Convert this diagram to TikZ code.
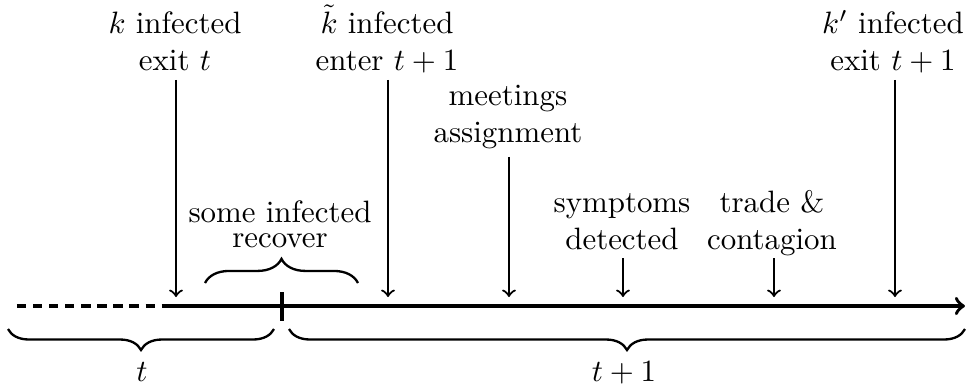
\documentclass[tikz,border=0pt]{standalone}
\usetikzlibrary{decorations.pathreplacing}
\begin{document}
\begin{tikzpicture}[x=0.3236pt,y=-0.3236pt,
  lbl/.style={align=center,inner sep=0pt,text depth=0pt,anchor=south},
  evarrow/.style={->,line width=0.7pt},
  axis/.style={line width=1.15pt},
  bracebar/.style={line width=0.75pt,decorate,decoration={brace,amplitude=#1}}]
\useasboundingbox (0,0) rectangle (967,385);

% time axis
\coordinate (dstart) at (17,306);
\coordinate (dend) at (163,306);
\coordinate (aend) at (965,306);
\draw[axis,dash pattern=on 3pt off 2.2pt] (dstart) -- (dend);
\draw[axis,->] (dend) -- (aend);
\coordinate (tickt) at (282,292);
\coordinate (tickb) at (282,321);
\draw[axis] (tickt) -- (tickb);

% event labels
\node[lbl] (kexit) at (175,71) {$k$ infected\\exit $t$};
\node[lbl] (kenter) at (387,71) {$\tilde{k}$ infected\\enter $t+1$};
\node[lbl] (kpexit) at (893,71) {$k'$ infected\\exit $t+1$};
\node[lbl] (meet) at (508,143) {meetings\\assignment};
\node[lbl] (sympt) at (622,250) {symptoms\\detected};
\node[lbl] (trade) at (772,250) {trade \&\\contagion};
\node[lbl] (recov) at (280,248) {some infected\\[-3.9pt]recover};

% event arrows
\coordinate (e1) at (176,297);
\coordinate (e2) at (388,297);
\coordinate (e3) at (509,297);
\coordinate (e4) at (623,297);
\coordinate (e5) at (774,297);
\coordinate (e6) at (895,297);
\draw[evarrow,shorten <=2.9pt] (kexit.south -| e1) -- (e1);
\draw[evarrow,shorten <=2.9pt] (kenter.south -| e2) -- (e2);
\draw[evarrow,shorten <=4.5pt] (meet.south -| e3) -- (e3);
\draw[evarrow,shorten <=2.6pt] (sympt.south -| e4) -- (e4);
\draw[evarrow,shorten <=2.6pt] (trade.south -| e5) -- (e5);
\draw[evarrow,shorten <=2.9pt] (kpexit.south -| e6) -- (e6);

% braces
\coordinate (rb1) at (205,283);
\coordinate (rb2) at (358,283);
\draw[bracebar=7.8pt] (rb1) -- (rb2);
\coordinate (tb1) at (274,329);
\coordinate (tb2) at (8,329);
\draw[bracebar=6.8pt] (tb1) -- (tb2);
\coordinate (sb1) at (965,329);
\coordinate (sb2) at (289,329);
\draw[bracebar=6.8pt] (sb1) -- (sb2);
\node[anchor=base,inner sep=0pt] (tl) at (142,381) {$t$};
\node[anchor=base,inner sep=0pt] (t1l) at (624,381) {$t+1$};
\end{tikzpicture}
\end{document}
